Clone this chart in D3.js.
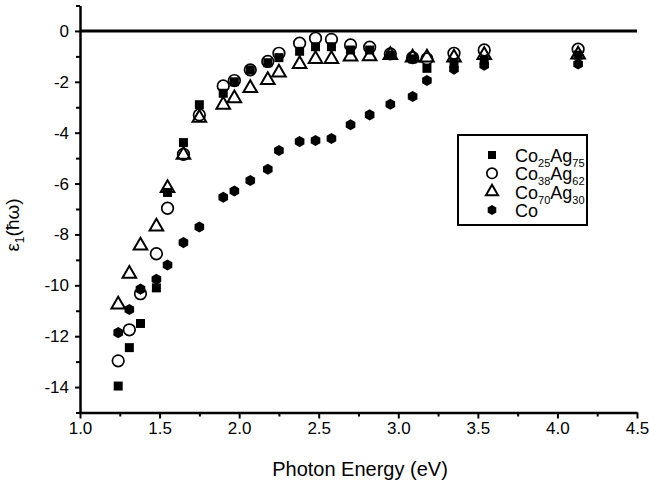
<!DOCTYPE html>
<html>
<head>
<meta charset="utf-8">
<script src="https://cdnjs.cloudflare.com/ajax/libs/d3/7.8.5/d3.min.js"></script>
<style>
  body { margin: 0; background: #fff; }
  svg { display: block; font-family: "Liberation Sans", Arial, Helvetica, sans-serif; }
</style>
</head>
<body>
<script>
// photon energies (eV), shared by all samples
var energy = [1.24, 1.31, 1.38, 1.48, 1.55, 1.65, 1.75, 1.90, 1.97, 2.07, 2.18, 2.25,
              2.38, 2.48, 2.58, 2.70, 2.82, 2.95, 3.09, 3.18, 3.35, 3.54, 4.13];

// eps1 values
var co25ag75 = [-13.96, -12.45, -11.5, -10.1, -6.35, -4.39, -2.9, -2.45, -2.0, -1.53, -1.25, -1.05,
                -0.8, -0.62, -0.62, -0.75, -0.75, -0.95, -1.1, -1.47, -1.25, -1.15, -0.95];
var co38ag62 = [-12.97, -11.75, -10.33, -8.76, -6.97, -4.85, -3.3, -2.16, -1.95, -1.53, -1.2, -0.88,
                -0.48, -0.29, -0.33, -0.55, -0.64, -0.9, -1.05, -1.1, -0.88, -0.75, -0.72];
var co70ag30 = [-10.76, -9.55, -8.44, -7.69, -6.18, -4.87, -3.42, -2.9, -2.65, -2.25, -1.93, -1.64,
                -1.3, -1.11, -1.11, -1.01, -1.0, -0.95, -1.05, -1.05, -1.05, -0.95, -0.93];
var co = [-11.86, -10.95, -10.15, -9.76, -9.2, -8.32, -7.71, -6.54, -6.29, -5.88, -5.44, -4.70,
          -4.35, -4.31, -4.23, -3.69, -3.30, -2.88, -2.58, -1.95, -1.5, -1.35, -1.3];

var xTicks = [1.0, 1.5, 2.0, 2.5, 3.0, 3.5, 4.0, 4.5];
var xMinor = [1.25, 1.75, 2.25, 2.75, 3.25, 3.75, 4.25];
var yTicks = [-14, -12, -10, -8, -6, -4, -2, 0];
var yMinor = [-15, -13, -11, -9, -7, -5, -3, -1, 1];

var series = [
  {name: 'Co', a: '25', b: 'Ag', c: '75', values: co25ag75, shape: 'square'},
  {name: 'Co', a: '38', b: 'Ag', c: '62', values: co38ag62, shape: 'circle'},
  {name: 'Co', a: '70', b: 'Ag', c: '30', values: co70ag30, shape: 'triangle'},
  {name: 'Co', a: '', b: '', c: '', values: co, shape: 'hexagon'}
];

const w = 649, h = 483;

var x = d3.scaleLinear().domain([1.0, 4.5]).range([80, 637]);
var y = d3.scaleLinear().domain([-15, 1]).range([412.5, 5.5]);

var svg = d3.select('body').append('svg')
  .attr('width', w)
  .attr('height', h);

// hexagon, pointy top
var hexagon = {
  draw: function(ctx, size) {
    var r = Math.sqrt(size / 2.598);
    for (var i = 0; i < 6; i++) {
      var a = Math.PI / 2 + i * Math.PI / 3;
      var px = r * Math.cos(a), py = r * Math.sin(a);
      if (i === 0) ctx.moveTo(px, py); else ctx.lineTo(px, py);
    }
    ctx.closePath();
  }
};

function marker(sel, shape, k) {
  k = k || 1;
  if (shape === 'square') {
    sel.attr('d', d3.symbol(d3.symbolSquare, 81 * k)()).attr('fill', '#000');
  } else if (shape === 'circle') {
    sel.attr('d', d3.symbol(d3.symbolCircle, Math.PI * 5.8 * 5.8 * k)())
      .attr('fill', 'none').attr('stroke', '#000').attr('stroke-width', 1.7);
  } else if (shape === 'triangle') {
    sel.attr('d', d3.symbol(d3.symbolTriangle, 80 * k)())
      .attr('fill', 'none').attr('stroke', '#000').attr('stroke-width', 2);
  } else {
    sel.attr('d', d3.symbol(hexagon, 80 * k)()).attr('fill', '#000');
  }
}

// axes
var xAxis = d3.axisBottom(x).tickValues(xTicks).tickSize(6).tickPadding(3.5)
  .tickSizeOuter(0).tickFormat(d3.format('.1f'));
var yAxis = d3.axisLeft(y).tickValues(yTicks).tickSize(5).tickPadding(6)
  .tickSizeOuter(0).tickFormat(function(d) { return String(d); });

svg.append('g')
  .attr('transform', 'translate(0,' + y(-15) + ')')
  .call(xAxis);
svg.append('g')
  .attr('transform', 'translate(0,' + y(-15) + ')')
  .call(d3.axisBottom(x).tickValues(xMinor).tickSize(4).tickSizeOuter(0).tickFormat(''))
  .select('.domain').remove();

svg.append('g')
  .attr('transform', 'translate(' + x(1.0) + ',0)')
  .call(yAxis);
svg.append('g')
  .attr('transform', 'translate(' + x(1.0) + ',0)')
  .call(d3.axisLeft(y).tickValues(yMinor).tickSize(4).tickSizeOuter(0).tickFormat(''))
  .select('.domain').remove();

svg.selectAll('.domain').attr('stroke', '#000').attr('stroke-width', 2.5);
svg.selectAll('.tick line').attr('stroke', '#000').attr('stroke-width', 2);
svg.selectAll('.tick text').attr('font-size', 17).attr('fill', '#000')
  .attr('font-family', '"Liberation Sans", Arial, sans-serif');

// zero line
svg.append('line')
  .attr('x1', x(1.0)).attr('x2', x(4.5))
  .attr('y1', y(0)).attr('y2', y(0))
  .attr('stroke', '#000').attr('stroke-width', 3);

// points
series.forEach(function(s) {
  svg.append('g').selectAll('path')
    .data(s.values)
    .enter()
    .append('path')
    .attr('transform', function(d, i) { return 'translate(' + x(energy[i]) + ',' + y(d) + ')'; })
    .call(marker, s.shape);
});

// axis titles
svg.append('text')
  .attr('x', 360).attr('y', 476)
  .attr('text-anchor', 'middle')
  .attr('font-size', 20)
  .text('Photon Energy (eV)');

var yl = svg.append('text')
  .attr('transform', 'translate(19,225) rotate(-90)')
  .attr('text-anchor', 'middle')
  .attr('font-size', 19);
yl.append('tspan').text('\u03b5');
yl.append('tspan').attr('font-size', 12).attr('dy', 5).text('1');
yl.append('tspan').attr('dy', -5).text('(\u0127\u03c9)');

// legend
var lg = svg.append('g');
lg.append('rect')
  .attr('x', 458).attr('y', 135).attr('width', 129).attr('height', 90)
  .attr('fill', '#fff').attr('stroke', '#000').attr('stroke-width', 2);

var rowY = d3.scalePoint().domain(d3.range(series.length)).range([155, 210]);
series.forEach(function(s, i) {
  var ry = rowY(i);
  lg.append('path')
    .attr('transform', 'translate(492,' + ry + ')')
    .call(marker, s.shape, 0.8);
  var t = lg.append('text').attr('x', 515).attr('y', ry + 7).attr('font-size', 18);
  t.append('tspan').text(s.name);
  if (s.a) {
    t.append('tspan').attr('font-size', 11).attr('dy', 5).text(s.a);
    t.append('tspan').attr('dy', -5).text(s.b);
    t.append('tspan').attr('font-size', 11).attr('dy', 5).text(s.c);
  }
});
</script>
</body>
</html>
